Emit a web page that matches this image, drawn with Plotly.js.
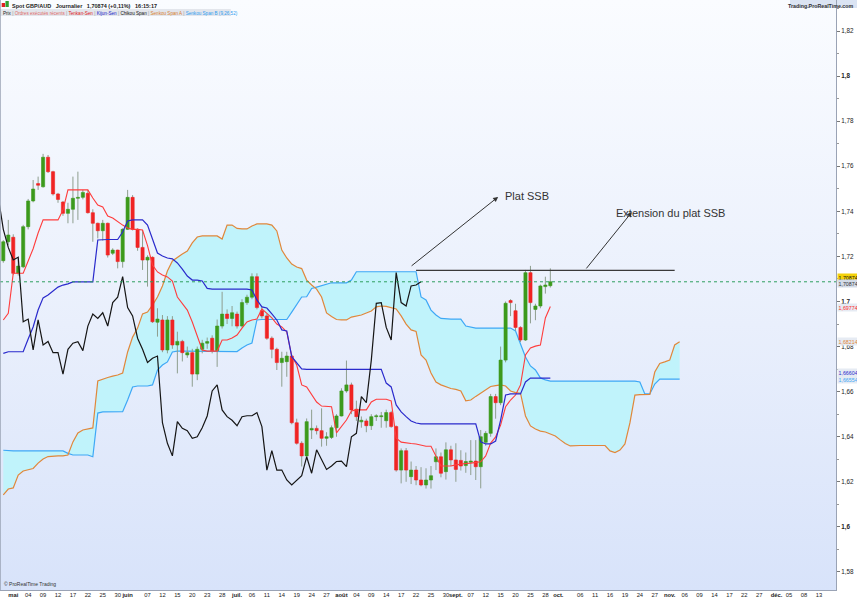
<!DOCTYPE html>
<html><head><meta charset="utf-8">
<script src="https://cdn.plot.ly/plotly-3.0.1.min.js"></script>
<style>
html,body{margin:0;padding:0;background:#fff;}
#wrap{position:relative;width:857px;height:600px;overflow:hidden;background:#fff;}
#bg{position:absolute;left:0;top:0;width:836px;height:590px;background:linear-gradient(to bottom,#fafcff 0%,#e9effc 55%,#d8e3fa 100%);}
#chart{position:absolute;left:0;top:0;width:857px;height:600px;}
</style></head><body>
<div id="wrap"><div id="bg"></div><div id="chart"></div></div>
<script>
// Bar index 0 = 1 May 2017 (trading days); first candle at index -2
const firstBar = -2;
const chikouShift = 26;

const open = [1.7181,1.7265,1.7285,1.7125,1.7154,1.7332,1.7446,1.7523,1.7509,1.7640,
1.7576,1.7477,1.7441,1.7391,1.7409,1.7458,1.7462,1.7480,1.7394,1.7347,
1.7314,1.7347,1.7214,1.7228,1.7177,1.7320,1.7462,1.7320,1.7240,1.7184,
1.7196,1.6908,1.6918,1.6785,1.6918,1.6807,1.6823,1.6763,1.6773,1.6678,
1.6788,1.6815,1.6837,1.6782,1.6891,1.6944,1.6925,1.6944,1.6891,1.6995,
1.7019,1.7110,1.6959,1.6936,1.6837,1.6788,1.6729,1.6733,1.6758,1.6462,
1.6371,1.6315,1.6430,1.6437,1.6427,1.6393,1.6397,1.6440,1.6492,1.6603,
1.6630,1.6522,1.6466,1.6470,1.6449,1.6489,1.6489,1.6471,1.6507,1.6445,
1.6252,1.6338,1.6223,1.6252,1.6208,1.6186,1.6208,1.6289,1.6311,1.6245,
1.6342,1.6297,1.6295,1.6272,1.6287,1.6292,1.6267,1.6375,1.6415,1.6578,
1.6551,1.6740,1.7004,1.6959,1.6885,1.6829,1.7128,1.6965,1.6980,1.7066,1.7070];
const high = [1.7272,1.7362,1.7298,1.7190,1.7340,1.7455,1.7539,1.7554,1.7655,1.7650,
1.7580,1.7482,1.7446,1.7438,1.7554,1.7576,1.7495,1.7495,1.7409,1.7350,
1.7362,1.7350,1.7236,1.7230,1.7325,1.7495,1.7472,1.7325,1.7317,1.7205,
1.7200,1.6970,1.6940,1.6935,1.6935,1.6866,1.6830,1.6800,1.6790,1.6800,
1.6830,1.6840,1.6850,1.6920,1.7043,1.6965,1.6980,1.6955,1.7010,1.7030,
1.7125,1.7125,1.6980,1.6945,1.6845,1.6795,1.6777,1.6777,1.6765,1.6480,
1.6380,1.6481,1.6520,1.6450,1.6526,1.6420,1.6450,1.6500,1.6615,1.6738,
1.6640,1.6560,1.6490,1.6480,1.6500,1.6500,1.6510,1.6520,1.6515,1.6450,
1.6348,1.6350,1.6290,1.6270,1.6265,1.6260,1.6270,1.6348,1.6330,1.6375,
1.6360,1.6371,1.6340,1.6330,1.6385,1.6385,1.6430,1.6425,1.6590,1.6590,
1.6800,1.7000,1.7010,1.6990,1.6890,1.7140,1.7158,1.6990,1.7075,1.7110,1.7147];
const low = [1.7172,1.7250,1.7118,1.7115,1.7148,1.7320,1.7440,1.7495,1.7505,1.7570,
1.7470,1.7438,1.7380,1.7347,1.7347,1.7362,1.7453,1.7390,1.7265,1.7280,
1.7270,1.7195,1.7206,1.7147,1.7150,1.7317,1.7315,1.7225,1.7140,1.7066,
1.6905,1.6844,1.6775,1.6770,1.6790,1.6681,1.6734,1.6750,1.6622,1.6651,
1.6770,1.6790,1.6770,1.6710,1.6880,1.6900,1.6890,1.6880,1.6885,1.6985,
1.7010,1.6965,1.6925,1.6830,1.6748,1.6696,1.6622,1.6666,1.6455,1.6365,
1.6268,1.6300,1.6390,1.6410,1.6356,1.6360,1.6390,1.6400,1.6490,1.6595,
1.6500,1.6470,1.6440,1.6420,1.6430,1.6470,1.6440,1.6440,1.6440,1.6245,
1.6193,1.6200,1.6190,1.6185,1.6180,1.6170,1.6170,1.6252,1.6220,1.6210,
1.6270,1.6200,1.6250,1.6240,1.6230,1.6208,1.6171,1.6360,1.6400,1.6480,
1.6540,1.6730,1.6935,1.6870,1.6820,1.6825,1.6903,1.6917,1.6970,1.7035,1.7062];
const close = [1.7265,1.7295,1.7125,1.7157,1.7332,1.7446,1.7499,1.7516,1.7640,1.7576,
1.7477,1.7453,1.7391,1.7409,1.7458,1.7462,1.7484,1.7394,1.7347,1.7314,
1.7347,1.7206,1.7228,1.7177,1.7320,1.7462,1.7320,1.7240,1.7184,1.7196,
1.6910,1.6922,1.6785,1.6918,1.6807,1.6823,1.6773,1.6773,1.6678,1.6788,
1.6815,1.6822,1.6782,1.6891,1.6944,1.6925,1.6950,1.6891,1.6995,1.7019,
1.7110,1.6973,1.6936,1.6837,1.6788,1.6729,1.6748,1.6758,1.6462,1.6371,
1.6315,1.6467,1.6437,1.6427,1.6393,1.6400,1.6440,1.6492,1.6603,1.6630,
1.6519,1.6489,1.6473,1.6449,1.6489,1.6493,1.6493,1.6507,1.6445,1.6252,
1.6338,1.6252,1.6252,1.6208,1.6186,1.6208,1.6227,1.6311,1.6238,1.6342,
1.6297,1.6255,1.6270,1.6290,1.6292,1.6267,1.6400,1.6415,1.6578,1.6551,
1.6740,1.6992,1.6995,1.6885,1.6829,1.7128,1.6995,1.6980,1.7069,1.7073,1.70874];

const tenkan = [1.6918,1.6948,1.7125,1.7125,1.7125,1.7180,1.7234,1.7304,1.7362,1.7362,
1.7362,1.7362,1.7406,1.7495,1.7495,1.7495,1.7495,1.7495,1.7459,1.7428,
1.7419,1.7379,1.7370,1.7353,1.7339,1.7326,1.7320,1.7320,1.7317,1.7248,
1.7162,1.7131,1.7118,1.7109,1.7091,1.7020,1.6993,1.6962,1.6909,1.6851,
1.6785,1.6780,1.6780,1.6780,1.6829,1.6829,1.6838,1.6851,1.6882,1.6909,
1.6918,1.6922,1.6967,1.6949,1.6927,1.6900,1.6887,1.6865,1.6758,1.6718,
1.6630,1.6621,1.6585,1.6554,1.6536,1.6533,1.6533,1.6417,1.6448,1.6474,
1.6514,1.6519,1.6519,1.6519,1.6554,1.6566,1.6566,1.6566,1.6559,1.6394,
1.6376,1.6372,1.6370,1.6368,1.6363,1.6358,1.6358,1.6311,1.6270,1.6270,
1.6270,1.6275,1.6279,1.6281,1.6283,1.6285,1.6289,1.6315,1.6372,1.6399,
1.6452,1.6533,1.6563,1.6585,1.6630,1.6763,1.6794,1.6802,1.6807,1.6927,1.69774];
const kijun = [1.6770,1.6777,1.6777,1.6777,1.6777,1.6834,1.6887,1.6962,1.7016,1.7029,
1.7047,1.7064,1.7073,1.7078,1.7087,1.7087,1.7087,1.7087,1.7087,1.7273,
1.7275,1.7275,1.7275,1.7275,1.7308,1.7357,1.7362,1.7362,1.7362,1.7339,
1.7273,1.7215,1.7202,1.7193,1.7189,1.7171,1.7144,1.7113,1.7095,1.7095,
1.7091,1.7058,1.7055,1.7055,1.7055,1.7055,1.7055,1.7055,1.7055,1.7055,
1.7051,1.7007,1.6976,1.6971,1.6945,1.6918,1.6874,1.6869,1.6755,1.6727,
1.6701,1.6699,1.6699,1.6699,1.6699,1.6699,1.6699,1.6699,1.6699,1.6699,
1.6699,1.6699,1.6699,1.6699,1.6699,1.6699,1.6699,1.6638,1.6621,1.6541,
1.6510,1.6489,1.6470,1.6461,1.6457,1.6457,1.6457,1.6457,1.6457,1.6457,
1.6457,1.6457,1.6457,1.6457,1.6457,1.6457,1.6377,1.6368,1.6368,1.6381,
1.6474,1.6585,1.6590,1.6590,1.6590,1.6643,1.66604,1.66604,1.66604,1.66604,1.66604];

// Senkou spans, from bar -2 to bar 134 (projected 26 bars ahead)
const senkouA = [1.6142,1.6168,1.6173,1.6230,1.6248,1.6252,1.6259,1.6283,1.6301,1.6312,
1.6315,1.6315,1.6315,1.6319,1.6377,1.6417,1.6430,1.6434,1.6439,1.6647,
1.6656,1.6663,1.6669,1.6674,1.6683,1.6776,1.6842,1.6882,1.6945,1.6953,
1.6984,1.7020,1.7069,1.7135,1.7180,1.7197,1.7211,1.7224,1.7260,1.7286,
1.7291,1.7291,1.7291,1.7291,1.7277,1.7339,1.7339,1.7324,1.7322,1.7322,
1.7335,1.7344,1.7344,1.7344,1.7339,1.7313,1.7228,1.7193,1.7166,1.7153,
1.7146,1.7095,1.7073,1.7055,1.7020,1.6949,1.6933,1.6920,1.6918,1.6918,
1.6931,1.6936,1.6940,1.6949,1.6958,1.6976,1.6980,1.6978,1.6973,1.6967,
1.6936,1.6900,1.6874,1.6867,1.6763,1.6740,1.6683,1.6643,1.6630,1.6621,
1.6614,1.6610,1.6603,1.6559,1.6563,1.6579,1.6594,1.6607,1.6623,1.6627,
1.6630,1.6625,1.6603,1.6596,1.6593,1.6492,1.6448,1.6434,1.6425,1.6421,
1.6412,1.6403,1.6386,1.6370,1.6359,1.6361,1.6361,1.6361,1.6361,1.6361,
1.6361,1.6361,1.6337,1.6330,1.6341,1.6368,1.6461,1.6585,1.6587,1.6588,
1.6588,1.6687,1.6725,1.6732,1.6740,1.6807,1.68214];
const senkouB = [1.6340,1.6337,1.6337,1.6337,1.6337,1.6337,1.6337,1.6337,1.6337,1.6337,
1.6337,1.6337,1.6337,1.6326,1.6319,1.6319,1.6319,1.6319,1.6311,1.6505,
1.6510,1.6510,1.6510,1.6510,1.6511,1.6563,1.6621,1.6625,1.6625,1.6625,
1.6630,1.6696,1.6718,1.6732,1.6776,1.6780,1.6780,1.6780,1.6780,1.6780,
1.6780,1.6780,1.6780,1.6780,1.6780,1.6780,1.6780,1.6778,1.6794,1.6807,
1.6816,1.6918,1.6920,1.6920,1.6920,1.6920,1.6920,1.6920,1.6953,1.6989,
1.7020,1.7021,1.7058,1.7064,1.7071,1.7078,1.7083,1.7083,1.7083,1.7083,
1.7095,1.7132,1.7132,1.7132,1.7132,1.7132,1.7132,1.7132,1.7132,1.7132,
1.7132,1.7132,1.7132,1.7132,1.7020,1.7007,1.6962,1.6940,1.6925,1.6922,
1.6922,1.6922,1.6922,1.6891,1.6885,1.6882,1.6882,1.6882,1.6882,1.6882,
1.6882,1.6882,1.6882,1.6869,1.6811,1.6754,1.6714,1.6696,1.6661,1.6652,
1.6647,1.6647,1.6647,1.6647,1.6647,1.6647,1.6647,1.6647,1.6647,1.6647,
1.6647,1.6647,1.6647,1.6647,1.6647,1.6647,1.6647,1.6647,1.6643,1.6590,
1.6590,1.6634,1.66554,1.66554,1.66554,1.66554,1.66554];

// "Plat SSB" drawn level and its extension (bar indices)
const ssbLevel = 1.7138;
const ssbFrom = 81, ssbTo = 133;

// x-axis labels (bar index, text)
const xTickVals = [0,3,6,9,12,15,18,21,23,27,30,33,36,39,42,45,48,51,54,57,60,63,66,69,72,75,78,81,84,87,89,92,95,98,101,104,107,109.6,114,117,120,123,126,129,132,135,138,141,144,147,150,153.5,156,159,162];
const xTickText = ['<b>mai</b>','04','09','12','17','22','25','30','<b>juin</b>','07','12','15','20','23','28','<b>juil.</b>','06','11','14','19','24','27','<b>août</b>','04','09','14','17','22','25','30','<b>sept.</b>','07','12','15','20','25','28','<b>oct.</b>','06','11','16','19','24','27','<b>nov.</b>','06','09','14','17','22','27','<b>déc.</b>','05','08','13'];
const yTickVals = [1.58,1.6,1.62,1.64,1.66,1.68,1.7,1.72,1.74,1.76,1.78,1.8,1.82];
const yTickText = ['1,58','<b>1,6</b>','1,62','1,64','1,66','1,68','<b>1,7</b>','1,72','1,74','1,76','1,78','<b>1,8</b>','1,82'];

const FONT = 'Arial, "Liberation Sans", sans-serif';
const GREEN = '#3c9a1c', RED = '#f02424', WICK = '#8e9e8e';

const xs = close.map((_, i) => firstBar + i);
const xsS = senkouA.map((_, i) => firstBar + i);

const wx = [], wy = [];
const ux = [], uy = [], dx = [], dy = [];
const hw = 0.32;
for (let i = 0; i < xs.length; i++) {
  wx.push(xs[i], xs[i], null); wy.push(low[i], high[i], null);
  const lo = Math.min(open[i], close[i]), hi = Math.max(open[i], close[i]);
  const bx = [xs[i]-hw, xs[i]+hw, xs[i]+hw, xs[i]-hw, xs[i]-hw, null];
  const by = [lo, lo, hi, hi, lo, null];
  if (close[i] >= open[i]) { ux.push(...bx); uy.push(...by); }
  else { dx.push(...bx); dy.push(...by); }
}

const traces = [
  {x: xsS, y: senkouB, type: 'scatter', mode: 'lines', line: {color: '#3ea8f6', width: 1.2}, hoverinfo: 'skip'},
  {x: xsS, y: senkouA, type: 'scatter', mode: 'lines', fill: 'tonexty', fillcolor: '#c0f3fb', line: {color: '#e0873a', width: 1.2}, hoverinfo: 'skip'},
  {x: wx, y: wy, type: 'scatter', mode: 'lines', line: {color: WICK, width: 1}, hoverinfo: 'skip'},
  {x: ux, y: uy, type: 'scatter', mode: 'lines', fill: 'toself', fillcolor: GREEN, line: {color: GREEN, width: 0.6}, hoverinfo: 'skip'},
  {x: dx, y: dy, type: 'scatter', mode: 'lines', fill: 'toself', fillcolor: RED, line: {color: RED, width: 0.6}, hoverinfo: 'skip'},
  {x: xs, y: tenkan, type: 'scatter', mode: 'lines', line: {color: '#ff3c3c', width: 1.1}, hoverinfo: 'skip'},
  {x: xs, y: kijun, type: 'scatter', mode: 'lines', line: {color: '#2a2acc', width: 1.2}, hoverinfo: 'skip'},
  {x: xs.map(v => v - chikouShift), y: close, type: 'scatter', mode: 'lines', line: {color: '#151515', width: 1.2}, hoverinfo: 'skip'}
];

const last = close.length - 1;
const lastS = senkouA.length - 1;

function priceLabel(v, txtColor, bg, yshift) {
  return {xref: 'paper', x: 1.0, xshift: 1, xanchor: 'left', yref: 'y', y: v, yshift: yshift,
    text: v.toFixed(5).replace('.', ','), showarrow: false, font: {family: FONT, size: 5.3, color: txtColor},
    bgcolor: bg, borderpad: 0.5};
}

const annotations = [
  // header
  {xref: 'paper', yref: 'paper', x: 0.012, y: 1, yshift: -1, xanchor: 'left', yanchor: 'top', showarrow: false,
   text: '<b>Spot GBP/AUD   Journalier   1,70874 (+0,11%)   16:15:17</b>', font: {family: FONT, size: 5.5, color: '#222'}},
  {xref: 'paper', yref: 'paper', x: 0.001, y: 1, yshift: -8.5, xanchor: 'left', yanchor: 'top', showarrow: false,
   text: 'Prix <span style="color:#999">|</span> <span style="color:#e06a6a">Ordres exécutés récents</span> <span style="color:#999">|</span> <span style="color:#e01818">Tenkan-Sen</span> <span style="color:#999">|</span> <span style="color:#2020c8">Kijun-Sen</span> <span style="color:#999">|</span> <span style="color:#111">Chikou Span</span> <span style="color:#999">|</span> <span style="color:#d8802e">Senkou Span A</span> <span style="color:#999">|</span> <span style="color:#2f9cf0">Senkou Span B (9,26,52)</span>',
   font: {family: FONT, size: 4.6, color: '#222'}},
  {xref: 'paper', yref: 'paper', x: 1.0, xshift: 20, y: 1, yshift: -1, xanchor: 'right', yanchor: 'top', showarrow: false,
   text: '<b>Trading.ProRealTime.com</b>', font: {family: FONT, size: 5.3, color: '#333'}},
  {xref: 'paper', yref: 'paper', x: 0.002, y: 0, yshift: 1, xanchor: 'left', yanchor: 'bottom', showarrow: false,
   text: '© ProRealTime Trading', font: {family: FONT, size: 5, color: '#333'}},
  // drawn annotations
  {x: 97.5, y: 1.7464, xref: 'x', yref: 'y', ax: 79.8, ay: 1.7153, axref: 'x', ayref: 'y', text: '',
   showarrow: true, arrowhead: 2, arrowsize: 1, arrowwidth: 1, arrowcolor: '#333'},
  {x: 124.4, y: 1.7397, xref: 'x', yref: 'y', ax: 115.0, ay: 1.7140, axref: 'x', ayref: 'y', text: '',
   showarrow: true, arrowhead: 2, arrowsize: 1, arrowwidth: 1, arrowcolor: '#333'},
  {x: 98.5, y: 1.7468, xref: 'x', yref: 'y', xanchor: 'left', showarrow: false, text: 'Plat SSB',
   font: {family: FONT, size: 11, color: '#333'}},
  {x: 120.8, y: 1.7393, xref: 'x', yref: 'y', xanchor: 'left', showarrow: false, text: 'Extension du plat SSB',
   font: {family: FONT, size: 11, color: '#333'}},
  // right-side value labels
  priceLabel(close[last], '#111', '#f4d20a', 4.5),
  priceLabel(close[last], '#333', '#d3dbe8', -2),
  priceLabel(tenkan[last], '#ff2a2a', '#e6ebf3', -1),
  priceLabel(senkouA[lastS], '#e0873a', '#e6ebf3', 0),
  priceLabel(kijun[last], '#2a2acc', '#e6ebf3', 6),
  priceLabel(senkouB[lastS], '#3ea8f6', '#e6ebf3', 0)
];

const shapes = [
  // header backgrounds
  {type: 'rect', xref: 'paper', yref: 'paper', x0: 0, x1: 0.276, ysizemode: 'pixel', yanchor: 1, y0: -9, y1: -16,
   fillcolor: '#e3e6ec', line: {width: 0}, layer: 'below'},
  {type: 'rect', xref: 'paper', yref: 'paper', x0: 0.945, x1: 1.03, ysizemode: 'pixel', yanchor: 1, y0: 0, y1: -8,
   fillcolor: '#dbe4f3', line: {width: 0}, layer: 'below'},
  // header icon
  {type: 'rect', xref: 'paper', yref: 'paper', x0: 0.002, x1: 0.006, ysizemode: 'pixel', yanchor: 1, y0: -3, y1: -7,
   fillcolor: '#e02020', line: {width: 0}},
  {type: 'rect', xref: 'paper', yref: 'paper', x0: 0.0065, x1: 0.0105, ysizemode: 'pixel', yanchor: 1, y0: -1, y1: -7,
   fillcolor: '#30a030', line: {width: 0}},
  // current price
  {type: 'line', xref: 'paper', x0: 0, x1: 1, yref: 'y', y0: close[last], y1: close[last],
   line: {color: '#2f9f5f', width: 1, dash: 'dot'}},
  // Plat SSB line
  {type: 'line', xref: 'x', x0: ssbFrom, x1: ssbTo, yref: 'y', y0: ssbLevel, y1: ssbLevel,
   line: {color: '#3a3a3a', width: 1.2}},
  // left border
  {type: 'line', xref: 'paper', x0: 0, x1: 0, yref: 'paper', y0: 0, y1: 1, line: {color: '#9aa3b5', width: 1.5}}
];

const layout = {
  width: 857, height: 600,
  margin: {l: 0, r: 21, t: 0, b: 10, pad: 0},
  paper_bgcolor: 'rgba(0,0,0,0)', plot_bgcolor: 'rgba(0,0,0,0)',
  showlegend: false,
  font: {family: FONT, size: 7, color: '#222'},
  xaxis: {range: [-2.664, 165.44], showgrid: false, zeroline: false, tickmode: 'array', tickvals: xTickVals, ticktext: xTickText,
    tickfont: {family: FONT, size: 5.8, color: '#222'}, tickangle: 0, ticks: '', ticklabelstandoff: -1,
    showline: true, linecolor: '#9aa3b5', linewidth: 1, fixedrange: true, automargin: false},
  yaxis: {range: [1.57200, 1.83376], side: 'right', showgrid: false, zeroline: false, tickmode: 'array', tickvals: yTickVals, ticktext: yTickText,
    tickfont: {family: FONT, size: 6.3, color: '#222'}, ticks: 'outside', ticklen: 3, tickcolor: '#777', showline: true, linecolor: '#9aa3b5', linewidth: 1,
    minor: {tickmode: 'linear', tick0: 1.57, dtick: 0.02, ticks: 'outside', ticklen: 2, tickcolor: '#999'}, fixedrange: true, automargin: false},
  shapes: shapes,
  annotations: annotations
};

Plotly.newPlot('chart', traces, layout, {staticPlot: true, displayModeBar: false});
</script></body></html>
